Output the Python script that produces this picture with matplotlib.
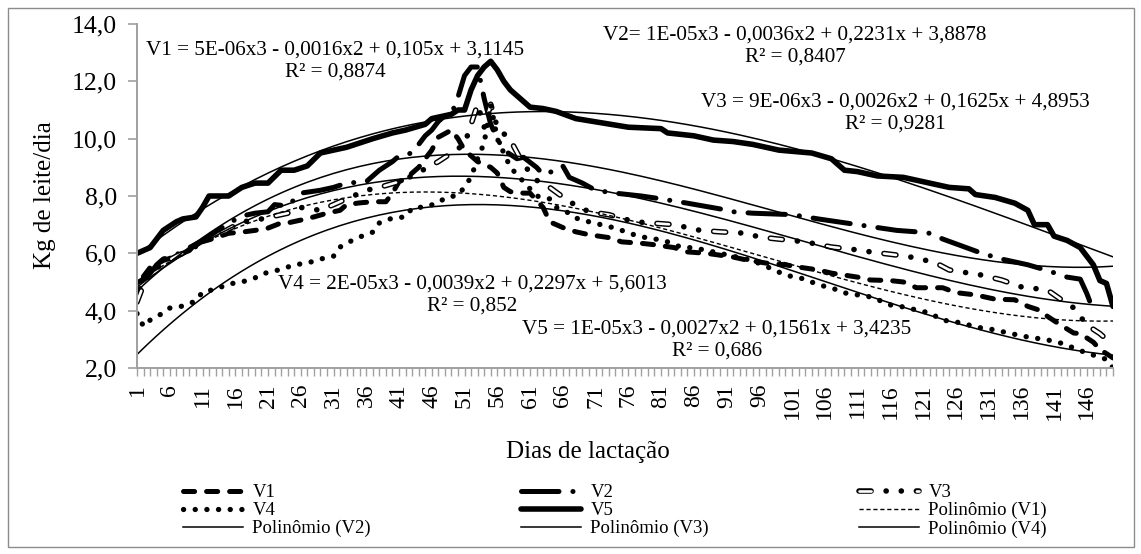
import numpy as np
import matplotlib
matplotlib.use("Agg")
import matplotlib.pyplot as plt
from matplotlib.legend_handler import HandlerTuple
from matplotlib.patches import Rectangle
from matplotlib.ticker import FuncFormatter, FixedLocator

plt.rcParams['font.family'] = ['Liberation Serif', 'DejaVu Serif']
plt.rcParams['lines.scale_dashes'] = False

# produção diária (kg de leite/dia), por dia de lactação
v1_dias = [1, 2, 3, 5, 7, 9, 10, 12, 15, 17, 19, 21, 23, 24, 26, 28, 30, 32, 33, 35, 37, 39, 40, 41,
           42, 44, 46, 47, 49, 50, 51, 52, 53, 54, 55, 56, 57, 58, 60, 61, 62, 63, 64, 66, 68, 70, 73,
           75, 78, 80, 83, 85, 88, 92, 94, 97, 100, 102, 105, 107, 109, 111, 113, 116, 118, 120, 124,
           126, 129, 132, 135, 137, 139, 140, 142, 144, 145, 147, 148, 150]
v1_kg = [4.4, 5.2, 5.5, 5.75, 5.9, 6.1, 6.35, 6.47, 6.7, 6.74, 6.8, 6.88, 7.06, 7.06, 7.16, 7.27, 7.4,
         7.5, 7.7, 7.76, 7.8, 7.8, 8.1, 8.5, 8.6, 9.0, 9.6, 10.05, 10.3, 10.0, 9.6, 9.4, 9.2, 9.1, 9.0,
         8.8, 8.3, 8.15, 8.1, 8.1, 7.85, 7.6, 7.1, 6.9, 6.75, 6.65, 6.55, 6.4, 6.35, 6.3, 6.2, 6.05,
         6.0, 5.87, 5.77, 5.66, 5.6, 5.52, 5.42, 5.31, 5.24, 5.17, 5.07, 5.05, 5.0, 4.8, 4.8, 4.63,
         4.55, 4.4, 4.38, 4.15, 4.0, 3.8, 3.5, 3.22, 3.2, 2.9, 2.65, 2.35]

v2_dias = [1, 2, 3, 4, 5, 7, 9, 11, 13, 15, 17, 19, 21, 22, 24, 26, 29, 31, 33, 36, 38, 40, 41, 43,
           44, 45, 46, 47, 48, 49, 50, 51, 52, 53, 54, 55, 56, 57, 59, 60, 62, 63, 65, 66, 67, 69, 71,
           74, 78, 81, 85, 90, 92, 95, 101, 105, 108, 111, 114, 117, 120, 122, 124, 127, 130, 133, 137,
           140, 143, 145, 146, 147]
v2_kg = [4.97, 5.1, 5.3, 5.6, 5.8, 5.95, 6.2, 6.45, 6.75, 7.05, 7.3, 7.4, 7.45, 7.7, 7.65, 8.1, 8.2,
         8.3, 8.45, 8.5, 8.9, 9.2, 9.4, 9.5, 9.8, 10.1, 10.3, 10.6, 10.8, 10.85, 11.45, 12.2, 12.5,
         12.5, 11.4, 10.5, 10.0, 9.6, 9.3, 9.35, 9.0, 8.75, 8.9, 9.05, 8.65, 8.45, 8.2, 8.1, 8.0, 7.9,
         7.75, 7.55, 7.45, 7.4, 7.35, 7.2, 7.1, 7.0, 6.9, 6.8, 6.75, 6.7, 6.5, 6.25, 6.0, 5.8, 5.6,
         5.4, 5.17, 5.1, 4.6, 4.0]

v3_dias = [1, 2, 3, 5, 7, 9, 11, 13, 15, 17, 19, 22, 24, 26, 29, 31, 33, 36, 38, 41, 43, 45, 47, 49,
           51, 52, 53, 54, 55, 56, 58, 60, 62, 64, 67, 70, 73, 77, 80, 83, 87, 90, 94, 96, 100, 103,
           107, 111, 113, 117, 120, 123, 125, 130, 133, 136, 140, 142, 144, 146, 148, 150]
v3_kg = [4.3, 4.9, 5.3, 5.65, 5.9, 6.1, 6.4, 6.6, 6.85, 7.1, 7.15, 7.3, 7.4, 7.6, 7.5, 7.7, 7.9, 8.2,
         8.3, 8.5, 8.7, 8.95, 9.2, 9.5, 9.8, 10.5, 11.2, 10.4, 11.2, 10.4, 9.95, 9.1, 8.55, 8.3, 7.8,
         7.45, 7.35, 7.1, 7.05, 7.0, 6.8, 6.75, 6.7, 6.57, 6.47, 6.4, 6.22, 6.12, 6.05, 5.94, 5.84,
         5.66, 5.42, 5.24, 5.07, 4.83, 4.72, 4.4, 4.1, 3.5, 3.2, 2.8]

v4_dias = [1, 2, 3, 5, 6, 8, 10, 11, 13, 15, 17, 19, 20, 22, 24, 25, 27, 29, 31, 32, 34, 35, 37, 38,
           40, 42, 43, 45, 47, 48, 50, 51, 52, 53, 54, 55, 56, 57, 58, 60, 62, 64, 65, 67, 68, 70, 72,
           74, 75, 77, 79, 81, 82, 84, 86, 88, 90, 92, 94, 96, 98, 100, 103, 105, 107, 109, 111, 113,
           115, 116, 118, 122, 124, 127, 129, 132, 134, 137, 140, 142, 144, 146, 148, 149, 150]
v4_kg = [3.9, 3.45, 3.67, 3.92, 4.09, 4.16, 4.34, 4.65, 4.75, 4.93, 5.0, 5.14, 5.28, 5.38, 5.52, 5.6,
         5.66, 5.8, 5.9, 6.22, 6.47, 6.57, 6.74, 7.06, 7.23, 7.27, 7.58, 7.62, 7.76, 7.93, 8.03, 8.31,
         8.66, 9.3, 9.85, 11.2, 10.0, 9.5, 9.0, 8.5, 8.0, 7.9, 7.6, 7.4, 7.23, 7.1, 6.99, 6.88, 6.8,
         6.64, 6.53, 6.47, 6.4, 6.22, 6.19, 6.1, 6.0, 5.9, 5.8, 5.65, 5.45, 5.24, 5.1, 4.9, 4.8, 4.62,
         4.55, 4.48, 4.3, 4.2, 4.13, 3.92, 3.67, 3.57, 3.43, 3.33, 3.22, 3.08, 2.98, 2.87, 2.7, 2.52,
         2.38, 2.3, 2.0]

v5_dias = [1, 3, 5, 7, 8, 10, 11, 12, 15, 17, 19, 21, 23, 25, 27, 29, 31, 33, 35, 37, 40, 42, 45, 46,
           49, 50, 51, 52, 53, 54, 55, 56, 57, 58, 59, 60, 61, 63, 65, 68, 72, 76, 81, 82, 86, 89, 92,
           95, 99, 104, 107, 109, 111, 114, 118, 122, 125, 128, 129, 132, 135, 137, 138, 140, 141, 143,
           145, 146, 147, 148, 149, 150]
v5_kg = [6.0, 6.2, 6.8, 7.1, 7.2, 7.27, 7.6, 8.0, 8.0, 8.3, 8.45, 8.45, 8.9, 8.9, 9.05, 9.5, 9.6, 9.7,
         9.85, 10.0, 10.2, 10.3, 10.5, 10.7, 10.85, 11.0, 11.0, 11.7, 12.2, 12.5, 12.7, 12.4, 12.0,
         11.7, 11.5, 11.3, 11.1, 11.05, 10.95, 10.7, 10.55, 10.4, 10.35, 10.2, 10.1, 9.95, 9.9, 9.8,
         9.6, 9.5, 9.3, 8.9, 8.85, 8.7, 8.65, 8.45, 8.3, 8.25, 8.05, 7.95, 7.75, 7.5, 7.0, 7.0, 6.6,
         6.45, 6.2, 5.9, 5.6, 5.05, 4.95, 4.15]

eq_v1 = "V1 = 5E-06x3 - 0,0016x2 + 0,105x + 3,1145\nR² = 0,8874"
eq_v2 = "V2= 1E-05x3 - 0,0036x2 + 0,2231x + 3,8878\nR² = 0,8407"
eq_v3 = "V3 = 9E-06x3 - 0,0026x2 + 0,1625x + 4,8953\nR² = 0,9281"
eq_v4 = "V4 = 2E-05x3 - 0,0039x2 + 0,2297x + 5,6013\nR² = 0,852"
eq_v5 = "V5 = 1E-05x3 - 0,0027x2 + 0,1561x + 3,4235\nR² = 0,686"

dias_rotulo = list(range(1, 150, 5))
W, H = 1141, 554


def tendencia(d, v, x):
    # ajuste cúbico; pesos pelo intervalo entre leituras (dias lidos com espaçamento irregular)
    d = np.asarray(d, float)
    gaps = np.diff(d)
    w = np.concatenate([[gaps[0] / 2], (gaps[:-1] + gaps[1:]) / 2, [gaps[-1] / 2]])
    return np.polyval(np.polyfit(d, v, 3, w=np.sqrt(w)), x)


fig = plt.figure(figsize=(W / 100, H / 100), dpi=100)
fig.patches.append(Rectangle((8 / W, 1 - 547 / H), 1126 / W, 539 / H, transform=fig.transFigure,
                             fill=False, edgecolor='#8c8c8c', linewidth=1.0))
ax = fig.add_axes([137 / W, 1 - 368 / H, 976 / W, 344 / H])

kw = dict(color='black', solid_capstyle='round', dash_capstyle='round',
          solid_joinstyle='round', dash_joinstyle='round')

l1, = ax.plot(v1_dias, v1_kg, lw=3.6, dashes=(8, 8.6), **kw)
l2, = ax.plot(v2_dias, v2_kg, lw=3.6, dashes=(27, 10, 0.1, 10), **kw)
p3 = (8.7, 10.8, 0.1, 10.8, 0.1, 10.8)
l3a, = ax.plot(v3_dias, v3_kg, lw=4.0, dashes=p3, **kw)
l3b, = ax.plot(v3_dias, v3_kg, lw=1.9, dashes=(8.7, sum(p3) - 8.7), **dict(kw, color='white'))
l4, = ax.plot(v4_dias, v4_kg, lw=3.8, dashes=(0.1, 8.3), **kw)
l5, = ax.plot(v5_dias, v5_kg, lw=4.0, **kw)

# linhas de tendência polinomiais (ordem 3)
x_all = np.arange(1, 151)
t1, = ax.plot(x_all, tendencia(v1_dias, v1_kg, x_all), color='black', lw=1.0, dashes=(3, 2))
t2, = ax.plot(x_all, tendencia(v2_dias, v2_kg, x_all), color='black', lw=1.1)
t3, = ax.plot(x_all, tendencia(v3_dias, v3_kg, x_all), color='black', lw=1.1)
t4, = ax.plot(x_all, tendencia(v4_dias, v4_kg, x_all), color='black', lw=1.1)
ax.plot(x_all, tendencia(v5_dias, v5_kg, x_all), color='black', lw=1.1)

ax.set_xlim(1, 150)
ax.set_ylim(2, 14)
ax.set_yticks(np.arange(2, 15, 2))
ax.yaxis.set_major_formatter(FuncFormatter(lambda y, p: f"{y:.1f}".replace('.', ',')))
ax.xaxis.set_major_locator(FixedLocator(dias_rotulo))
ax.xaxis.set_minor_locator(FixedLocator(x_all))
ax.set_xticklabels([str(d) for d in dias_rotulo], rotation=90)

for s in ['top', 'right']:
    ax.spines[s].set_visible(False)
for s in ['left', 'bottom']:
    ax.spines[s].set_color('#a0a0a0')
    ax.spines[s].set_linewidth(1.4)
ax.tick_params(axis='y', direction='out', length=6.5, width=1.2, color='#a0a0a0', labelsize=18.5, pad=8)
ax.tick_params(axis='x', which='both', direction='out', length=5.5, width=1.0, color='#a0a0a0',
               labelsize=17, pad=6)

fig.text(45 / W, 1 - 195 / H, "Kg de leite/dia", rotation=90, ha='center', va='center', fontsize=18)
fig.text(588 / W, 1 - 452 / H, "Dias de lactação", ha='center', va='center', fontsize=18)

for txt, cx, cy in [(eq_v1, 335, 61), (eq_v2, 795, 46), (eq_v3, 895, 113),
                    (eq_v4, 472, 295), (eq_v5, 717, 340)]:
    fig.text(cx / W, 1 - cy / H, txt, ha='center', va='center', fontsize=15.2,
             multialignment='center', linespacing=1.25)

# V3 no legenda: traço preto com o branco por cima (ndivide=1 sobrepõe os dois)
handles = [l1, l4, t2, l2, l5, t3, (l3a, l3b), t1, t4]
labels = ['V1', 'V4', 'Polinômio (V2)', 'V2', 'V5', 'Polinômio (V3)', 'V3', 'Polinômio (V1)', 'Polinômio (V4)']
fig.legend(handles, labels, loc='upper left', bbox_to_anchor=(183 / W, 1 - 484 / H), ncol=3,
           frameon=False, fontsize=13.5, handlelength=3.2, handletextpad=0.5, columnspacing=8.0,
           labelspacing=0.05, borderpad=0, borderaxespad=0,
           handler_map={tuple: HandlerTuple(ndivide=1, pad=0)})

fig.savefig('out.png', dpi=100)
